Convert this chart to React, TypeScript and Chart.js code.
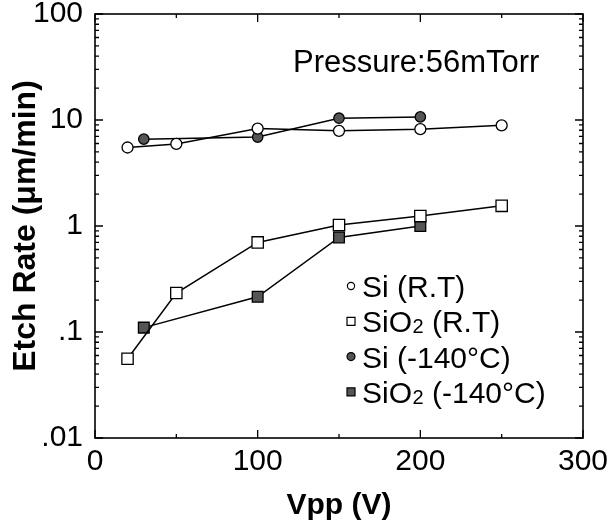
import React, { useEffect, useRef } from "react";
import { Chart, registerables } from "chart.js";

Chart.register(...registerables);

// ---- data ----
const xTickValues = [0, 100, 200, 300];
const xMinorTickValues = [50, 150, 250];
const yTickValues = [0.01, 0.1, 1, 10, 100];
const yTickLabels = [".01", ".1", "1", "10", "100"];

const siRtX = [20, 50, 100, 150, 200, 250];
const siRtY = [5.5, 5.95, 8.3, 7.9, 8.2, 8.9];

const sio2RtX = [20, 50, 100, 150, 200, 250];
const sio2RtY = [0.056, 0.233, 0.7, 1.02, 1.24, 1.55];

const siLtX = [30, 100, 150, 200];
const siLtY = [6.6, 6.9, 10.4, 10.7];

const sio2LtX = [30, 100, 150, 200];
const sio2LtY = [0.11, 0.215, 0.78, 1.0];

const seriesNames = ["Si (R.T)", "SiO2 (R.T)", "Si (-140°C)", "SiO2 (-140°C)"];
const annotationText = "Pressure:56mTorr";
const xTitle = "Vpp (V)";
const yTitle = "Etch Rate (μm/min)";

const FAMILY = "'Liberation Sans', Arial, Helvetica, sans-serif";
const FILL_DARK = "#555";

const toPoints = (xs: number[], ys: number[]) => xs.map((x, i) => ({ x, y: ys[i] }));

const markerStyles = [
  { style: "circle", fill: "#fff", radius: 5.5, legendSize: 3.6 },
  { style: "rect", fill: "#fff", radius: 8, legendSize: 4 },
  { style: "circle", fill: FILL_DARK, radius: 5.2, legendSize: 4 },
  { style: "rect", fill: FILL_DARK, radius: 7.6, legendSize: 4 },
];

function drawRichLabel(ctx: CanvasRenderingContext2D, text: string, x: number, y: number) {
  const parts = text.split("SiO2");
  let cx = x;
  const big = `30px ${FAMILY}`;
  const small = `20px ${FAMILY}`;
  parts.forEach((p, i) => {
    if (i > 0) {
      ctx.font = big;
      ctx.fillText("SiO", cx, y);
      cx += ctx.measureText("SiO").width;
      ctx.font = small;
      ctx.fillText("2", cx + 0.5, y + 1);
      cx += ctx.measureText("2").width + 0.5;
    }
    ctx.font = big;
    ctx.fillText(p, cx, y);
    cx += ctx.measureText(p).width;
  });
}

const decorPlugin = {
  id: "decor",
  afterDraw(chart: any) {
    const { ctx, chartArea: a, scales } = chart;
    const xs = scales.x;
    const ys = scales.y;
    ctx.save();
    ctx.strokeStyle = "#000";
    ctx.lineWidth = 1.6;
    ctx.strokeRect(a.left, a.top, a.right - a.left, a.bottom - a.top);

    ctx.lineWidth = 1.3;
    ctx.beginPath();
    const xTick = (v: number, len: number) => {
      const px = xs.getPixelForValue(v);
      ctx.moveTo(px, a.bottom);
      ctx.lineTo(px, a.bottom - len);
      ctx.moveTo(px, a.top);
      ctx.lineTo(px, a.top + len);
    };
    xTickValues.forEach((v) => xTick(v, 8));
    xMinorTickValues.forEach((v) => xTick(v, 4));
    const yTick = (v: number, len: number) => {
      const py = ys.getPixelForValue(v);
      ctx.moveTo(a.left, py);
      ctx.lineTo(a.left + len, py);
      ctx.moveTo(a.right, py);
      ctx.lineTo(a.right - len, py);
    };
    yTickValues.forEach((v, i) => {
      yTick(v, 8);
      if (i < yTickValues.length - 1) {
        for (let m = 2; m <= 9; m++) yTick(v * m, 4);
      }
    });
    ctx.stroke();

    ctx.fillStyle = "#000";
    ctx.textBaseline = "alphabetic";
    ctx.textAlign = "left";
    ctx.font = `31px ${FAMILY}`;
    ctx.fillText(annotationText, a.left + 198, a.top + 58);

    const lx = a.left + 256;
    const baseY = a.top + 283;
    const rowH = 35.3;
    seriesNames.forEach((name, i) => {
      const by = baseY + i * rowH;
      const my = by - 11;
      const m = markerStyles[i];
      ctx.beginPath();
      ctx.lineWidth = 1.2;
      ctx.strokeStyle = "#000";
      ctx.fillStyle = m.fill;
      if (m.style === "circle") {
        ctx.arc(lx, my, m.legendSize, 0, Math.PI * 2);
      } else {
        ctx.rect(lx - m.legendSize, my - m.legendSize, m.legendSize * 2, m.legendSize * 2);
      }
      ctx.fill();
      ctx.stroke();
      ctx.fillStyle = "#000";
      drawRichLabel(ctx, name, lx + 11, by);
    });
    ctx.restore();
  },
};

export default function App() {
  const ref = useRef<HTMLCanvasElement | null>(null);

  useEffect(() => {
    if (!ref.current) return;
    const seriesX = [siRtX, sio2RtX, siLtX, sio2LtX];
    const seriesY = [siRtY, sio2RtY, siLtY, sio2LtY];
    const datasets = seriesNames.map((name, i) => ({
      label: name,
      data: toPoints(seriesX[i], seriesY[i]),
      borderColor: "#000",
      borderWidth: 1.5,
      backgroundColor: markerStyles[i].fill,
      pointStyle: markerStyles[i].style,
      pointRadius: markerStyles[i].radius,
      pointBackgroundColor: markerStyles[i].fill,
      pointBorderColor: "#000",
      pointBorderWidth: 1.3,
      fill: false,
      tension: 0,
    }));

    const chart = new Chart(ref.current, {
      type: "line",
      data: { datasets },
      options: {
        animation: false,
        responsive: false,
        maintainAspectRatio: false,
        layout: { padding: { top: 14, right: 31, left: 0, bottom: 0 } },
        plugins: {
          legend: { display: false },
          tooltip: { enabled: false },
        },
        scales: {
          x: {
            type: "linear",
            min: 0,
            max: 300,
            afterBuildTicks: (s: any) => {
              s.ticks = xTickValues.map((v) => ({ value: v }));
            },
            grid: { display: false, drawTicks: false },
            border: { display: false },
            ticks: {
              autoSkip: false,
              maxRotation: 0,
              color: "#000",
              padding: 10,
              font: { size: 30, family: FAMILY, lineHeight: 0.93 },
            },
            title: {
              display: true,
              text: xTitle,
              color: "#000",
              font: { size: 30, weight: "bold", family: FAMILY },
              padding: { top: 0, bottom: 1 },
            },
            afterFit: (s: any) => {
              s.height = 87;
              s.paddingLeft = 0;
              s.paddingRight = 0;
            },
          },
          y: {
            type: "logarithmic",
            min: 0.01,
            max: 100,
            afterBuildTicks: (s: any) => {
              s.ticks = yTickValues.map((v) => ({ value: v }));
            },
            grid: { display: false, drawTicks: false },
            border: { display: false },
            ticks: {
              autoSkip: false,
              color: "#000",
              padding: 12,
              font: { size: 30, family: FAMILY, lineHeight: 0.93 },
              callback: (_v: any, i: number) => yTickLabels[i],
            },
            title: {
              display: true,
              text: yTitle,
              color: "#000",
              font: { size: 32, weight: "bold", family: FAMILY },
              padding: { top: 7, bottom: 0 },
            },
            afterFit: (s: any) => {
              s.width = 95;
              s.paddingTop = 0;
              s.paddingBottom = 0;
            },
          },
        },
      },
      plugins: [decorPlugin],
    } as any);

    return () => chart.destroy();
  }, []);

  return (
    <div style={{ position: "absolute", left: 0, top: 0, width: 614, height: 525, background: "#fff" }}>
      <canvas ref={ref} width={614} height={525} style={{ display: "block" }} />
    </div>
  );
}
